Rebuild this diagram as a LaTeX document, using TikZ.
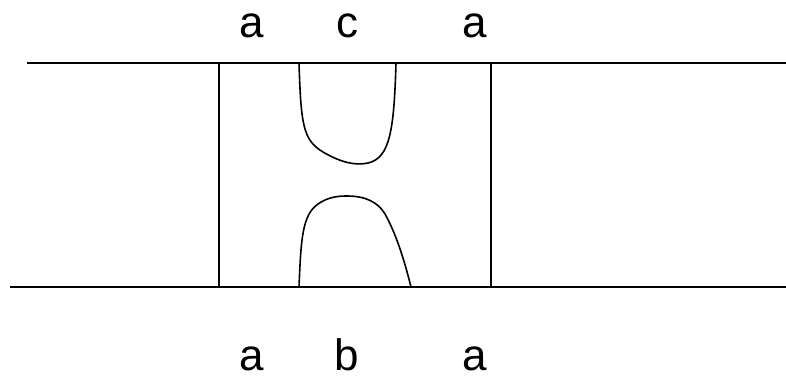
\documentclass[tikz,border=0pt]{standalone}
\usepackage{fontspec}
\setmainfont{Liberation Sans}
\begin{document}
\begin{tikzpicture}[x=1pt,y=-1pt,
  strand/.style={line width=1.6pt,line cap=butt},
  lbl/.style={anchor=base,inner sep=0pt,font=\fontsize{44}{50}\selectfont}]
\useasboundingbox (0,0) rectangle (786,382);
% rails
\coordinate (tl) at (27,63);   \coordinate (tr) at (786,63);
\coordinate (bl) at (10,287);  \coordinate (br) at (786,287);
\draw[strand] (tl) -- (tr);
\draw[strand] (bl) -- (br);
% box walls
\coordinate (w1t) at (219,63); \coordinate (w1b) at (219,287);
\coordinate (w2t) at (491,63); \coordinate (w2b) at (491,287);
\draw[strand] (w1t) -- (w1b);
\draw[strand] (w2t) -- (w2b);
% upper cap
\coordinate (u1) at (299,63); \coordinate (u2) at (396,63);
\draw[strand] (u1) .. controls (301,125) and (303,140) .. (323,152)
  .. controls (340,162) and (355,166) .. (368,163)
  .. controls (390,158) and (394,130) .. (u2);
% lower cup
\coordinate (d1) at (299,287); \coordinate (d2) at (411,287);
\draw[strand] (d1) .. controls (301,240) and (302,215) .. (318,204)
  .. controls (328,197) and (338,196) .. (347,196)
  .. controls (365,196) and (378,202) .. (385,214)
  .. controls (395,232) and (403,255) .. (d2);
% labels
\node[lbl] (ta1) at (252,38) {a};
\node[lbl] (tc) at (347,38) {c};
\node[lbl] (ta2) at (475,38) {a};
\node[lbl] (ba1) at (252,370) {a};
\node[lbl] (bb) at (347,370) {b};
\node[lbl] (ba2) at (475,370) {a};
\end{tikzpicture}
\end{document}
